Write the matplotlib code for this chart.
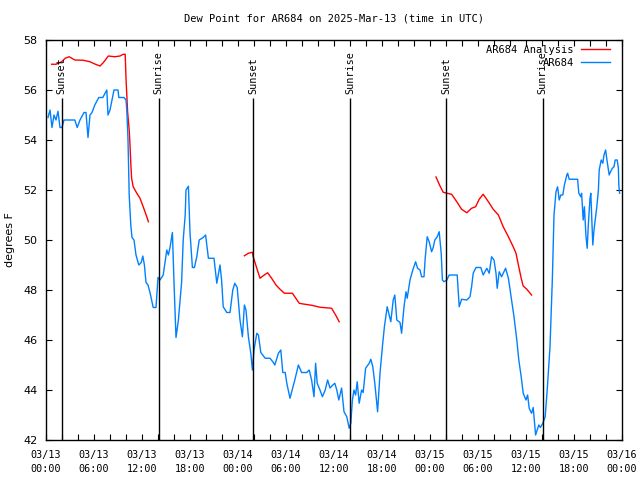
import numpy as np
import pandas as pd
import matplotlib
matplotlib.use("Agg")
import matplotlib.pyplot as plt
import matplotlib.dates as mdates

start = pd.Timestamp("2025-03-13 00:00")
end = pd.Timestamp("2025-03-16 00:00")

# Observed dew point (hours after 03/13 00:00 UTC, degrees F)
obs_hours = [0.25, 0.5, 0.75, 1.0, 1.25, 1.5, 1.75, 2.0, 2.25, 3.0, 3.6, 3.9, 4.25, 4.75, 5.0, 5.25, 5.5, 5.75,
             6.1, 6.6, 7.1, 7.6, 7.75, 8.0, 8.25, 8.5, 9.0, 9.1, 9.75, 10.0, 10.1, 10.25, 10.4, 10.6, 10.75,
             11.0, 11.25, 11.6, 11.9, 12.1, 12.3, 12.5, 12.75, 13.0, 13.4, 13.75, 14.0, 14.25, 14.65, 15.1,
             15.3, 15.5, 15.8, 16.0, 16.25, 16.55, 16.95, 17.15, 17.4, 17.5, 17.8, 18.0, 18.3, 18.55, 18.85,
             19.15, 19.65, 19.95, 20.3, 21.0, 21.35, 21.75, 21.95, 22.15, 22.6, 23.0, 23.35, 23.6, 23.9,
             24.25, 24.55, 24.8, 25.0, 25.3, 25.6, 25.8, 26.0, 26.35, 26.55, 26.85, 27.4, 28.0, 28.35, 28.6,
             29.05, 29.35, 29.6, 29.9, 30.1, 30.5, 30.85, 31.1, 31.55, 31.95, 32.6, 32.9, 33.2, 33.5, 33.7,
             33.9, 34.25, 34.55, 34.9, 35.2, 35.5, 35.85, 36.1, 36.35, 36.6, 36.95, 37.25, 37.6, 37.9, 38.1,
             38.3, 38.5, 38.7, 38.9, 39.15, 39.45, 39.65, 39.95, 40.4, 40.6, 40.85, 41.1, 41.45, 41.75,
             42.05, 42.3, 42.65, 42.9, 43.1, 43.4, 43.6, 43.85, 44.25, 44.45, 44.75, 45.0, 45.15, 45.5,
             45.85, 46.2, 46.45, 46.75, 46.95, 47.25, 47.4, 47.65, 47.9, 48.2, 48.4, 48.6, 48.9, 49.15,
             49.4, 49.55, 49.75, 50.1, 50.4, 51.4, 51.55, 51.65, 51.95, 52.6, 53.0, 53.2, 53.4, 53.75,
             54.35, 54.65, 55.1, 55.4, 55.7, 56.0, 56.25, 56.4, 56.65, 56.95, 57.2, 57.45, 57.8, 58.2,
             58.5, 58.85, 59.1, 59.4, 59.65, 60.0, 60.2, 60.4, 60.7, 60.9, 61.2, 61.4, 61.6, 61.8, 62.1,
             62.4, 62.65, 63.0, 63.3, 63.5, 63.75, 63.95, 64.15, 64.35, 64.6, 64.8, 65.1, 65.2, 65.4,
             66.45, 66.6, 66.85, 66.95, 67.1, 67.15, 67.3, 67.5, 67.65, 67.8, 68.0, 68.1, 68.35, 68.5,
             68.85, 69.05, 69.15, 69.4, 69.6, 69.75, 69.95, 70.15, 70.4, 70.6, 70.8, 71.0, 71.15, 71.4,
             71.55, 71.6, 71.7]
obs_values = [54.9, 55.2, 54.5, 55.0, 54.8, 55.15, 54.5, 54.5, 54.8, 54.8, 54.8, 54.5, 54.8, 55.1, 55.1, 54.1, 55.0, 55.1,
              55.4, 55.7, 55.7, 56.0, 55.0, 55.2, 55.6, 56.0, 56.0, 55.7, 55.7, 55.6, 55.2, 54.0, 51.8, 50.6, 50.1,
              50.0, 49.4, 49.0, 49.1, 49.36, 49.0, 48.3, 48.2, 47.9, 47.3, 47.3, 48.5, 48.4, 48.6, 49.6,
              49.4, 49.7, 50.3, 48.3, 46.1, 46.8, 48.3, 50.0, 51.0, 52.0, 52.15, 50.3, 48.9, 48.9, 49.33,
              50.0, 50.1, 50.2, 49.27, 49.27, 48.27, 49.0, 48.4, 47.33, 47.1, 47.1, 48.0, 48.27, 48.1,
              46.8, 46.13, 47.4, 47.2, 46.13, 45.47, 44.8, 45.6, 46.27, 46.2, 45.5, 45.27, 45.27, 45.13, 45.0,
              45.47, 45.6, 44.7, 44.7, 44.27, 43.67, 44.1, 44.4, 45.0, 44.7, 44.7, 44.8, 44.4, 43.73, 45.07,
              44.27, 44.0, 43.73, 44.0, 44.4, 44.08, 44.2, 44.27, 44.0, 43.6, 44.08, 43.13, 42.93, 42.47, 42.67,
              43.6, 44.0, 43.8, 44.33, 43.47, 44.0, 43.9, 44.87, 45.07, 45.23, 44.93, 44.27, 43.13, 44.67,
              45.73, 46.53, 47.33, 47.0, 46.73, 47.6, 47.8, 46.8, 46.7, 46.27, 47.33, 47.93, 47.67, 48.4,
              48.8, 49.13, 48.87, 48.8, 48.53, 48.53, 49.27, 50.13, 49.93, 49.53, 49.7, 50.0, 50.13, 50.33,
              49.47, 48.4, 48.33, 48.4, 48.6, 48.6, 47.87, 47.33, 47.63, 47.6, 47.73, 48.13, 48.67, 48.9,
              48.9, 48.6, 48.87, 48.67, 49.33, 49.2, 48.67, 48.07, 48.73, 48.53, 48.7, 48.87, 48.47, 47.6,
              46.93, 46.0, 45.2, 44.53, 43.87, 43.6, 43.8, 43.27, 43.07, 43.3, 42.2, 42.4, 42.6, 42.5, 42.67,
              42.93, 44.0, 45.73, 48.5, 51.0, 51.93, 52.13, 51.6, 51.8, 51.8, 52.2, 52.6, 52.67, 52.43,
              52.43, 51.87, 51.73, 51.87, 51.07, 50.8, 51.33, 50.13, 49.67, 50.67, 51.67, 51.87, 49.8, 50.4,
              51.33, 52.0, 52.8, 53.2, 53.07, 53.4, 53.6, 53.13, 52.6, 52.75, 52.87, 52.93, 53.2, 53.2,
              52.87, 52.2, 51.87]

# Analysis dew point (NaN marks gaps between segments)
ana_hours = [0.7, 1.25, 1.95, 2.4, 2.9, 3.6, 4.65, 5.5, 6.1, 6.75, 7.15, 7.8, 8.6, 9.25, 9.65, 9.9, 10.0,
             10.1, 10.2, 10.4, 10.5, 10.6, 10.7, 10.9, 11.35, 11.75, 12.15, 12.6, 12.8,
             18.0,
             24.8, 25.3, 25.8, 25.9, 26.35, 26.75, 27.15, 27.7, 28.2, 28.75, 29.25, 29.8, 30.8, 31.1,
             31.65, 32.15, 33.2, 34.25, 35.7, 36.2, 36.65,
             42.0,
             48.75, 49.25, 49.65, 50.1, 50.7, 51.35, 51.95, 52.6, 53.2, 53.7, 54.15, 54.65, 55.3, 55.9,
             56.55, 57.15, 57.8, 58.4, 58.75, 59.05, 59.4, 59.65, 60.1, 60.7]
ana_values = [57.03, 57.03, 57.13, 57.27, 57.33, 57.2, 57.19, 57.13, 57.04, 56.96, 57.09, 57.36, 57.33, 57.36,
              57.43, 57.43, 56.47, 55.8, 55.13, 54.4, 53.8, 53.07, 52.47, 52.13, 51.87, 51.67, 51.33, 50.93, 50.73,
              np.nan,
              49.37, 49.47, 49.51, 49.33, 48.87, 48.47, 48.57, 48.69, 48.47, 48.2, 48.03, 47.87, 47.87, 47.73,
              47.47, 47.44, 47.39, 47.31, 47.27, 47.0, 46.73,
              np.nan,
              52.52, 52.16, 51.91, 51.87, 51.83, 51.53, 51.23, 51.09, 51.27, 51.33, 51.63, 51.83, 51.53, 51.23,
              51.0, 50.53, 50.13, 49.73, 49.47, 49.0, 48.47, 48.16, 48.03, 47.8]

sun_hours = [1.95, 14.1, 25.9, 38.0, 50.0, 62.1]
sun_labels = ["Sunset", "Sunrise", "Sunset", "Sunrise", "Sunset", "Sunrise"]

title = "Dew Point for AR684 on 2025-Mar-13 (time in UTC)"
series_names = ["AR684 Analysis", "AR684"]
colors = ["#ff0000", "#0080ff"]

def to_time(h):
    return start + pd.to_timedelta(np.asarray(h, dtype=float), unit="h")

mono = "DejaVu Sans Mono"
fig = plt.figure(figsize=(6.4, 4.8), dpi=100)
ax = fig.add_axes([46 / 640, 40 / 480, 576 / 640, 400 / 480])

ax.plot(to_time(ana_hours), ana_values, color=colors[0], lw=1.0)
ax.plot(to_time(obs_hours), obs_values, color=colors[1], lw=1.0)

for h, lab in zip(sun_hours, sun_labels):
    t = to_time([h])[0]
    ax.vlines(t, 42, 55.68, color="black", lw=1.0)
    ax.text(t, 55.85, lab, rotation=90, ha="center", va="bottom", fontsize=7.3, family=mono)

ax.set_xlim(start, end)
ax.set_ylim(42, 58)
ax.set_yticks(np.arange(42, 58.1, 2))
ax.xaxis.set_major_locator(mdates.HourLocator(byhour=range(0, 24, 6)))
ax.xaxis.set_minor_locator(mdates.HourLocator(byhour=range(0, 24, 2)))
ax.xaxis.set_major_formatter(mdates.DateFormatter("%m/%d\n%H:%M"))
ax.tick_params(which="both", direction="in", top=True, right=True, length=4, width=0.8)
ax.tick_params(axis="x", labelsize=7.3, pad=7)
ax.tick_params(axis="y", labelsize=8, pad=6)
for lab in ax.get_xticklabels():
    lab.set_family(mono)
    lab.set_linespacing(1.5)
for s in ax.spines.values():
    s.set_linewidth(1.0)

ax.set_ylabel("degrees F", fontsize=8, labelpad=6)
ax.set_title(title, fontsize=7.5, family=mono, pad=13)

# legend (manual, gnuplot style)
ax.text((574 - 46) / 576, (440 - 50) / 400, series_names[0], transform=ax.transAxes,
        ha="right", va="center", fontsize=7.5, family=mono)
ax.text((574 - 46) / 576, (440 - 63) / 400, series_names[1], transform=ax.transAxes,
        ha="right", va="center", fontsize=7.5, family=mono)
ax.plot([(581 - 46) / 576, (610 - 46) / 576], [(440 - 49) / 400] * 2, color=colors[0], lw=1.0,
        transform=ax.transAxes, clip_on=False)
ax.plot([(581 - 46) / 576, (610 - 46) / 576], [(440 - 62) / 400] * 2, color=colors[1], lw=1.0,
        transform=ax.transAxes, clip_on=False)

fig.savefig("out.png", dpi=100)
